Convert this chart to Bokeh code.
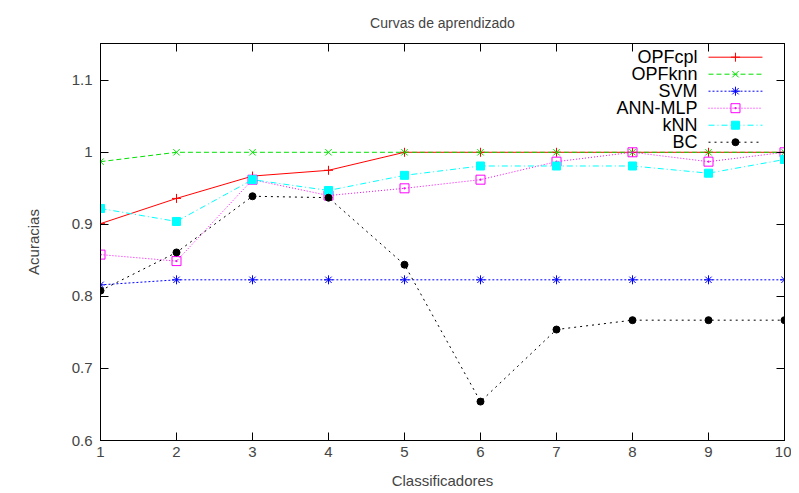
from bokeh.plotting import figure
from bokeh.models import Range1d, FixedTicker, LinearAxis, CustomJSTickFormatter
from bokeh.embed import file_html
from bokeh.resources import INLINE
from bokeh.core.properties import value

x = [1, 2, 3, 4, 5, 6, 7, 8, 9, 10]
opfcpl = [0.901, 0.936, 0.967, 0.975, 1.0, 1.0, 1.0, 1.0, 1.0, 1.0]
opfknn = [0.987, 1.0, 1.0, 1.0, 1.0, 1.0, 1.0, 1.0, 1.0, 1.0]
svm = [0.816, 0.823, 0.823, 0.823, 0.823, 0.823, 0.823, 0.823, 0.823, 0.823]
annmlp = [0.858, 0.849, 0.962, 0.940, 0.950, 0.962, 0.987, 1.0, 0.987, 1.0]
knn = [0.922, 0.904, 0.962, 0.947, 0.968, 0.981, 0.981, 0.981, 0.971, 0.990]
bc = [0.808, 0.861, 0.939, 0.937, 0.844, 0.654, 0.754, 0.767, 0.767, 0.767]

names = ["OPFcpl", "OPFknn", "SVM", "ANN-MLP", "kNN", "BC"]
series = [opfcpl, opfknn, svm, annmlp, knn, bc]
colors = ["#ff0000", "#00e000", "#0000ff", "#ff00ff", "#00ffff", "#000000"]
dashes = ["solid", "5 3", "2 2", "1 2", "6 3 1 3", "2 4"]
markers = ["cross", "x", "asterisk", "square_dot", "square", "circle"]
fills = [False, False, False, False, True, True]
sizes = [9, 9, 9, 9, 8, 7]

TITLE = "Curvas de aprendizado"
FONT = "Liberation Sans"

p = figure(width=791, height=493, output_backend="svg", toolbar_location=None,
           x_range=Range1d(1, 10), y_range=Range1d(0.6, 1.151),
           min_border_left=100, min_border_right=7, min_border_top=43, min_border_bottom=53,
           title=TITLE)
p.title.align = "center"
p.title.text_font = FONT
p.title.text_font_size = "14px"
p.title.text_font_style = "normal"
p.title.offset = 0
p.title.standoff = 25

p.xgrid.visible = False
p.ygrid.visible = False
p.outline_line_color = "black"
p.outline_line_width = 1
p.outline_line_alpha = 1
p.background_fill_color = "white"
p.border_fill_color = "white"

fmt = CustomJSTickFormatter(code="return tick.toFixed(1).replace(/\\.0$/, '');")
xt = FixedTicker(ticks=x)
yt = FixedTicker(ticks=[0.6, 0.7, 0.8, 0.9, 1.0, 1.1])

for ax in p.xaxis + p.yaxis:
    ax.major_tick_in = 8
    ax.major_tick_out = 0
    ax.minor_tick_line_color = None
    ax.axis_line_color = "black"
    ax.major_label_text_font = FONT
    ax.major_label_text_font_size = "15px"
    ax.axis_label_text_font = FONT
    ax.axis_label_text_font_size = "15px"
    ax.axis_label_text_font_style = "normal"
p.xaxis.ticker = xt
p.yaxis.ticker = yt
p.yaxis.formatter = fmt
p.xaxis.major_label_standoff = 6
p.yaxis.major_label_standoff = 8
p.xaxis.axis_label = "Classificadores"
p.yaxis.axis_label = "Acuracias"
p.xaxis.axis_label_standoff = 12
p.yaxis.axis_label_standoff = 27

top = LinearAxis(ticker=xt, major_label_text_font_size="0px", major_tick_in=8, major_tick_out=0,
                 minor_tick_line_color=None, major_label_text_color=None, major_label_standoff=0)
right = LinearAxis(ticker=yt, major_label_text_font_size="0px", major_tick_in=8, major_tick_out=0,
                   minor_tick_line_color=None, major_label_text_color=None, major_label_standoff=0)
p.add_layout(top, "above")
p.add_layout(right, "right")

for name, ys, c, d, m, f, s in zip(names, series, colors, dashes, markers, fills, sizes):
    p.line(x, ys, line_color=c, line_dash=d, line_width=1)
    p.scatter(x, ys, marker=m, size=s, line_color=c, fill_color=c if f else None, line_width=1)

# legend (top right, gnuplot style: label then sample)
leg_y0 = 1.132
leg_step = 0.0236
for i, (name, c, d, m, f, s) in enumerate(zip(names, colors, dashes, markers, fills, sizes)):
    yy = leg_y0 - i * leg_step
    p.text([8.855], [yy], text=[name], text_align="right", text_baseline="middle",
           text_font=value(FONT), text_font_size="18px", text_color="black")
    p.line([9.0, 9.71], [yy, yy], line_color=c, line_dash=d, line_width=1)
    p.scatter([9.355], [yy], marker=m, size=s, line_color=c, fill_color=c if f else None)

open("out.html", "w").write(file_html(p, INLINE))
